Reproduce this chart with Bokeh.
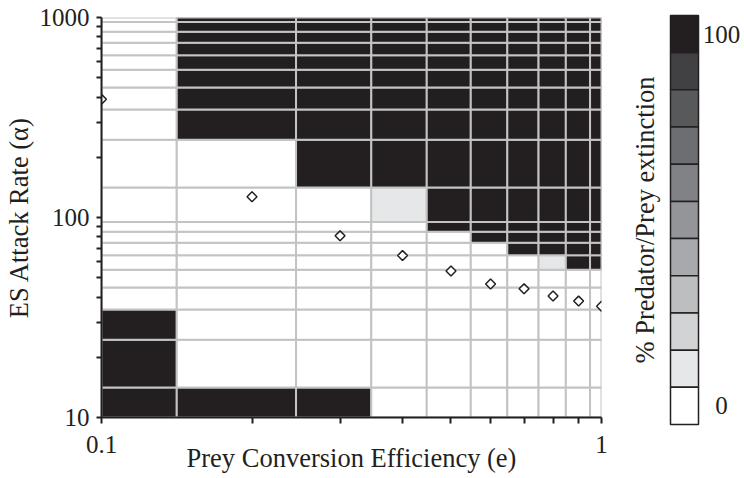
import math
from bokeh.plotting import figure
from bokeh.models import Range1d, FixedTicker, ColumnDataSource
from bokeh.layouts import row, column
from bokeh.embed import file_html
from bokeh.resources import INLINE
from bokeh.core.properties import value

# ---------------- data ----------------
e_values = [0.1, 0.2, 0.3, 0.4, 0.5, 0.6, 0.7, 0.8, 0.9, 1.0]
alpha_values = [10, 20, 30, 40, 50, 60, 70, 80, 90,
                100, 200, 300, 400, 500, 600, 700, 800, 900, 1000]
# % predator/prey extinction; one row per alpha (low -> high), one column per e
extinction = [
    [100, 100, 100, 0, 0, 0, 0, 0, 0, 0],            # 10
    [100, 0, 0, 0, 0, 0, 0, 0, 0, 0],                # 20
    [100, 0, 0, 0, 0, 0, 0, 0, 0, 0],                # 30
    [0, 0, 0, 0, 0, 0, 0, 0, 0, 0],                  # 40
    [0, 0, 0, 0, 0, 0, 0, 0, 0, 0],                  # 50
    [0, 0, 0, 0, 0, 0, 0, 10, 100, 100],             # 60
    [0, 0, 0, 0, 0, 0, 100, 100, 100, 100],          # 70
    [0, 0, 0, 0, 0, 100, 100, 100, 100, 100],        # 80
    [0, 0, 0, 0, 100, 100, 100, 100, 100, 100],      # 90
    [0, 0, 0, 10, 100, 100, 100, 100, 100, 100],     # 100
    [0, 0, 100, 100, 100, 100, 100, 100, 100, 100],  # 200
    [0, 100, 100, 100, 100, 100, 100, 100, 100, 100],  # 300
    [0, 100, 100, 100, 100, 100, 100, 100, 100, 100],  # 400
    [0, 100, 100, 100, 100, 100, 100, 100, 100, 100],  # 500
    [0, 100, 100, 100, 100, 100, 100, 100, 100, 100],  # 600
    [0, 100, 100, 100, 100, 100, 100, 100, 100, 100],  # 700
    [0, 100, 100, 100, 100, 100, 100, 100, 100, 100],  # 800
    [0, 100, 100, 100, 100, 100, 100, 100, 100, 100],  # 900
    [0, 100, 100, 100, 100, 100, 100, 100, 100, 100],  # 1000
]
# ES attack rate (diamonds)
es_alpha = [390, 127, 81, 64.5, 54, 46.5, 44, 40.5, 38.2, 36]

palette = ["#ffffff", "#e6e7e8", "#d1d3d4", "#bcbec0", "#a7a9ac", "#939598",
           "#808285", "#6d6e71", "#58595b", "#414042", "#231f20"]
cbar_labels = ["0", "100"]

INK = "#231f20"
FONT = "Liberation Serif"


def edges(vals):
    out = [vals[0]]
    for a, b in zip(vals[:-1], vals[1:]):
        out.append(math.sqrt(a * b))
    out.append(vals[-1])
    return out


xe = edges(e_values)
ye = edges(alpha_values)

cells = dict(left=[], right=[], bottom=[], top=[], color=[])
for j, arow in enumerate(extinction):
    for i, pct in enumerate(arow):
        cells["left"].append(xe[i])
        cells["right"].append(xe[i + 1])
        cells["bottom"].append(ye[j])
        cells["top"].append(ye[j + 1])
        cells["color"].append(palette[int(round(pct / 10))])

# ---------------- main figure ----------------
p = figure(width=620, height=478, x_axis_type="log", y_axis_type="log",
           x_range=Range1d(0.1, 1.0), y_range=Range1d(10, 1000),
           output_backend="svg", toolbar_location=None,
           min_border_left=101, min_border_right=19,
           min_border_top=17, min_border_bottom=61)
p.xgrid.visible = False
p.ygrid.visible = False
p.outline_line_color = None
p.background_fill_color = "white"
p.border_fill_color = "white"

p.quad(left="left", right="right", bottom="bottom", top="top",
       fill_color="color", line_color="#c3c3c3", line_width=2,
       source=ColumnDataSource(cells))

p.scatter(e_values, es_alpha, marker="square", angle=math.pi / 4, size=7,
          fill_color="white", line_color=INK, line_width=1.5)

p.xaxis.ticker = FixedTicker(ticks=[e_values[0], e_values[-1]],
                             minor_ticks=e_values[1:-1])
p.xaxis.major_label_overrides = {e_values[0]: "0.1", e_values[-1]: "1"}
p.yaxis.ticker = FixedTicker(ticks=[10, 100, 1000],
                             minor_ticks=[a for a in alpha_values if a not in (10, 100, 1000)])
p.yaxis.major_label_overrides = {10: "10", 100: "100", 1000: "1000"}

for ax in (p.xaxis[0], p.yaxis[0]):
    ax.axis_line_color = INK
    ax.axis_line_width = 2
    ax.major_tick_line_color = INK
    ax.minor_tick_line_color = INK
    ax.major_tick_line_width = 2
    ax.minor_tick_line_width = 2
    ax.major_tick_in = 0
    ax.minor_tick_in = 0
    ax.major_label_text_font = FONT
    ax.major_label_text_font_size = "25px"
    ax.major_label_text_color = INK
    ax.axis_label_text_font = FONT
    ax.axis_label_text_font_size = "26.5px"
    ax.axis_label_text_font_style = "normal"
    ax.axis_label_text_color = INK

p.xaxis.major_tick_out = 6
p.xaxis.minor_tick_out = 6
p.yaxis.major_tick_out = 5
p.yaxis.minor_tick_out = 5
p.xaxis.major_label_standoff = 12
p.yaxis.major_label_standoff = 7
p.xaxis.axis_label = "Prey Conversion Efficiency (e)"
p.yaxis.axis_label = "ES Attack Rate (α)"
p.xaxis.axis_label_standoff = -13
p.yaxis.axis_label_standoff = 3

# ---------------- colour bar (separate panel) ----------------
cb = figure(width=124, height=478, x_range=Range1d(620, 744), y_range=Range1d(478, 0),
            output_backend="svg", toolbar_location=None,
            x_axis_location=None, y_axis_location=None,
            min_border=0, min_border_left=0, min_border_right=0,
            min_border_top=0, min_border_bottom=0)
cb.xgrid.visible = False
cb.ygrid.visible = False
cb.outline_line_color = None
cb.background_fill_color = "white"
cb.border_fill_color = "white"

n = len(palette)
bar_top, bar_bot, bar_l, bar_r = 15.0, 424.0, 670.0, 698.0
h = (bar_bot - bar_top) / n
cb.quad(left=[bar_l] * n, right=[bar_r] * n,
        top=[bar_top + k * h for k in range(n)],
        bottom=[bar_top + (k + 1) * h for k in range(n)],
        fill_color=palette[::-1], line_color=INK, line_width=1.5)
cb.text(x=[721, 721], y=[bar_bot - h / 2, bar_top + h / 2], text=cbar_labels,
        text_font=value(FONT), text_font_size="25px", text_color=INK,
        text_align="center", text_baseline="middle")
cb.text(x=[644], y=[(bar_top + bar_bot) / 2], text=["% Predator/Prey extinction"],
        angle=math.pi / 2,
        text_font=value(FONT), text_font_size="26.5px", text_color=INK,
        text_align="center", text_baseline="middle")

layout = row(p, column(cb, spacing=0), spacing=0)
open("out.html", "w").write(file_html(layout, INLINE))
